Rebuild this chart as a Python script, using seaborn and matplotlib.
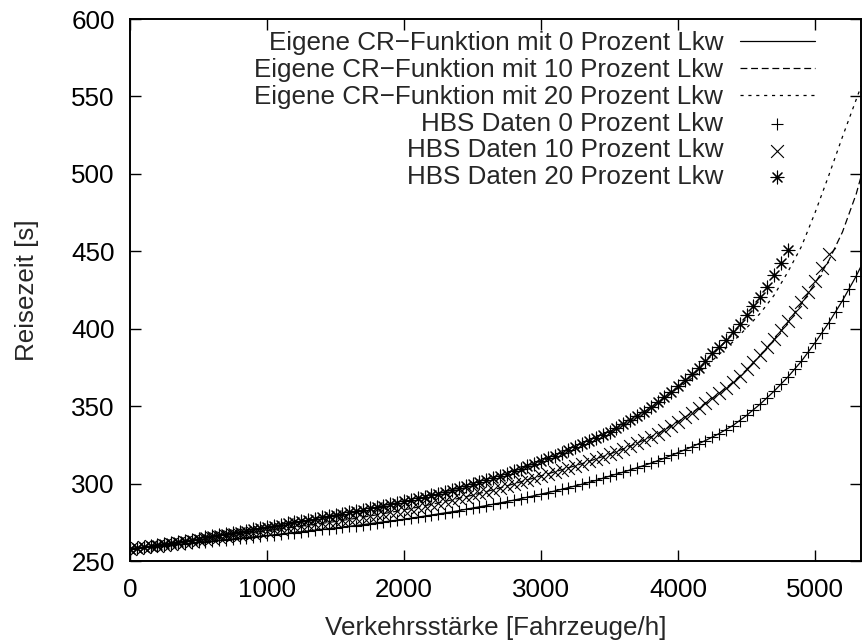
import numpy as np
import pandas as pd
import matplotlib
matplotlib.use("Agg")
import matplotlib.pyplot as plt
import seaborn as sns

# ---------------- data ----------------
step = 50
# HBS data, 0 % Lkw (x = 0 .. 5300 step 50)
hbs0_y = [258.0, 258.4, 258.8, 259.2, 259.6, 260.0, 260.4, 260.8, 261.2, 261.6, 262.0,
          262.4, 262.9, 263.3, 263.8, 264.2, 264.7, 265.1, 265.6, 266.0, 266.5,
          267.0, 267.4, 267.9, 268.4, 268.9, 269.4, 269.9, 270.4, 270.8, 271.3,
          271.8, 272.4, 272.9, 273.5, 274.1, 274.7, 275.3, 275.8, 276.4, 277.0,
          277.6, 278.3, 279.0, 279.7, 280.4, 281.1, 281.8, 282.5, 283.3, 284.2,
          285.0, 285.8, 286.7, 287.5, 288.4, 289.3, 290.2, 291.2, 292.2, 293.2,
          294.2, 295.2, 296.3, 297.4, 298.5, 299.6, 300.8, 302.0, 303.4, 304.8,
          306.1, 307.4, 308.8, 310.2, 311.6, 313.1, 314.7, 316.4, 318.2, 320.0,
          321.8, 323.7, 325.7, 327.8, 330.0, 332.3, 334.8, 337.5, 340.6, 344.0,
          347.6, 351.4, 355.4, 359.6, 364.0, 368.7, 373.7, 379.0, 384.7, 391.0,
          397.3, 403.9, 410.9, 418.2, 425.9, 434.0]
# HBS data, 10 % Lkw (x = 0 .. 5100 step 50)
hbs10_y = [258.0, 258.5, 259.0, 259.5, 260.0, 260.5,
           261.1, 261.7, 262.3, 262.9, 263.5,
           264.1, 264.7, 265.3, 265.9, 266.5,
           267.1, 267.7, 268.3, 268.9, 269.5,
           270.1, 270.7, 271.3, 271.9, 272.5,
           273.1, 273.7, 274.3, 274.9, 275.5,
           276.2, 276.9, 277.6, 278.3, 279.0,
           279.8, 280.6, 281.4, 282.2, 283.0,
           283.9, 284.8, 285.7, 286.6, 287.5,
           288.5, 289.5, 290.5, 291.5, 292.5,
           293.6, 294.8, 296.0, 297.2, 298.5,
           299.8, 301.1, 302.4, 303.7, 305.0,
           306.3, 307.6, 308.9, 310.2, 311.5,
           312.9, 314.4, 315.9, 317.4, 319.0,
           320.7, 322.4, 324.2, 326.1, 328.0,
           330.1, 332.3, 334.6, 337.2, 340.0,
           342.8, 345.7, 348.7, 351.8, 355.0,
           358.3, 361.8, 365.5, 369.6, 374.0,
           378.5, 383.2, 388.1, 393.4, 399.0,
           404.8, 410.8, 417.1, 423.8, 431.0,
           439.2, 448.0]
# HBS data, 20 % Lkw (x = 0 .. 4800 step 50)
hbs20_y = [258.0, 258.6, 259.2, 259.8, 260.4, 261.0,
           261.7, 262.4, 263.1, 263.8, 264.5,
           265.2, 265.9, 266.6, 267.3, 268.0,
           268.8, 269.6, 270.4, 271.2, 272.0,
           272.8, 273.5, 274.3, 275.0, 275.8,
           276.6, 277.4, 278.2, 279.0, 279.8,
           280.6, 281.4, 282.3, 283.1, 284.0,
           284.9, 285.8, 286.7, 287.6, 288.5,
           289.5, 290.5, 291.5, 292.5, 293.5,
           294.6, 295.8, 297.0, 298.2, 299.5,
           300.8, 302.2, 303.6, 305.0, 306.5,
           308.0, 309.6, 311.2, 312.8, 314.5,
           316.2, 318.0, 319.8, 321.6, 323.5,
           325.5, 327.5, 329.5, 331.5, 333.5,
           335.8, 338.3, 340.9, 343.6, 346.5,
           349.4, 352.5, 355.8, 359.3, 363.0,
           366.6, 370.6, 374.8, 379.2, 384.0,
           388.2, 392.8, 397.8, 403.2, 409.0,
           414.5, 420.5, 427.0, 434.5, 442.5, 451.0]

# own CR functions (sampled every 100 veh/h, plus 5350)
cr_x = [0, 100, 200, 300, 400, 500, 600, 700, 800, 900, 1000, 1100, 1200, 1300, 1400,
        1500, 1600, 1700, 1800, 1900, 2000, 2100, 2200, 2300, 2400, 2500, 2600, 2700,
        2800, 2900, 3000, 3100, 3200, 3300, 3400, 3500, 3600, 3700, 3800, 3900, 4000,
        4100, 4200, 4300, 4400, 4500, 4600, 4700, 4800, 4900, 5000, 5100, 5200, 5300, 5350]
cr0_y = [258.0, 258.8, 259.6, 260.4, 261.2, 262.0, 262.9, 263.8, 264.7, 265.6, 266.5,
         267.4, 268.4, 269.4, 270.4, 271.3, 272.4, 273.5, 274.7, 275.8, 277.0,
         278.3, 279.7, 281.1, 282.5, 284.2, 285.8, 287.5, 289.3, 291.2, 293.2,
         295.2, 297.4, 299.6, 302.0, 304.8, 307.4, 310.2, 313.1, 316.4, 320.0,
         323.7, 327.8, 332.3, 337.5, 344.0, 351.4, 359.6, 368.7, 379.0, 391.0,
         403.9, 418.2, 434.0, 443.0]
cr10_y = [258.0, 259.0, 260.0, 261.1, 262.3, 263.5, 264.7, 265.9, 267.1, 268.3, 269.5,
          270.7, 271.9, 273.1, 274.3, 275.5, 276.9, 278.3, 279.8, 281.4, 283.0,
          284.8, 286.6, 288.5, 290.5, 292.5, 294.8, 297.2, 299.8, 302.4, 305.0,
          307.6, 310.2, 312.9, 315.9, 319.0, 322.4, 326.1, 330.1, 334.6, 340.0,
          345.7, 351.8, 358.3, 365.3, 373.5, 382.8, 392.8, 404.0, 416.0, 429.5,
          444.0, 462.5, 487.0, 503.0]
cr20_y = [258.0, 259.2, 260.4, 261.7, 263.1, 264.5, 265.9, 267.3, 268.8, 270.4, 272.0,
          273.5, 275.0, 276.6, 278.2, 279.8, 281.4, 283.1, 284.9, 286.7, 288.5,
          290.5, 292.5, 294.6, 297.0, 299.5, 302.2, 305.0, 308.0, 311.2, 314.5,
          318.0, 321.6, 325.5, 329.5, 333.5, 338.3, 343.6, 349.0, 355.0, 361.5,
          368.0, 375.5, 383.5, 391.5, 400.5, 410.0, 421.5, 436.5, 453.0, 475.0,
          499.0, 524.0, 548.0, 560.0]

labels = ["Eigene CR\u2212Funktion mit 0 Prozent Lkw",
          "Eigene CR\u2212Funktion mit 10 Prozent Lkw",
          "Eigene CR\u2212Funktion mit 20 Prozent Lkw",
          "HBS Daten 0 Prozent Lkw",
          "HBS Daten 10 Prozent Lkw",
          "HBS Daten 20 Prozent Lkw"]
xticks = [0, 1000, 2000, 3000, 4000, 5000]
yticks = [250, 300, 350, 400, 450, 500, 550, 600]

# ---------------- figure ----------------
sns.set_theme(style="ticks")
plt.rcParams["font.family"] = ["Liberation Sans", "DejaVu Sans"]
FS = 18.7
plt.rcParams["font.size"] = FS

W, H = 863, 642
fig = plt.figure(figsize=(W / 100, H / 100), dpi=100)
L, R, T, B = 130, 861, 19, 561
ax = fig.add_axes([L / W, 1 - B / H, (R - L) / W, (B - T) / H])

def xs(n):
    return [i * step for i in range(n)]

line_kw = dict(color="black", linewidth=0.9, sort=False, estimator=None, legend=False)
sns.lineplot(x=cr_x, y=cr0_y, ax=ax, **line_kw)
l0 = ax.lines[-1]
sns.lineplot(x=cr_x, y=cr10_y, ax=ax, **line_kw)
l1 = ax.lines[-1]
l1.set_dashes([5.5, 3.0])
sns.lineplot(x=cr_x, y=cr20_y, ax=ax, **line_kw)
l2 = ax.lines[-1]
l2.set_dashes([2.5, 3.8])

msz = 85
sc_kw = dict(color="black", linewidth=0.8, s=msz, legend=False)
sns.scatterplot(x=xs(len(hbs0_y)), y=hbs0_y, marker="+", ax=ax, **sc_kw)
s0 = ax.collections[-1]
sns.scatterplot(x=xs(len(hbs10_y)), y=hbs10_y, marker="x", ax=ax, **sc_kw)
s1 = ax.collections[-1]
sns.scatterplot(x=xs(len(hbs20_y)), y=hbs20_y, marker=(8, 2, 0), ax=ax, **sc_kw)
s2 = ax.collections[-1]

ax.set_xlim(0, 5335)
ax.set_ylim(250, 600)
ax.set_xticks(xticks)
ax.set_yticks(yticks)
for sp in ax.spines.values():
    sp.set_visible(True)
    sp.set_linewidth(1.4)
    sp.set_color("black")
ax.tick_params(direction="in", length=8, width=1.0, top=True, right=True,
               labelsize=FS, colors="black")
ax.tick_params(axis="x", pad=12.5)
ax.tick_params(axis="y", pad=11)
ax.set_xlabel("Verkehrsst\u00e4rke [Fahrzeuge/h]", fontsize=FS, labelpad=9.5)
ax.set_ylabel("Reisezeit [s]", fontsize=FS, labelpad=23)

leg = ax.legend([l0, l1, l2, s0, s1, s2], labels, loc="upper right",
                bbox_to_anchor=((815 - L) / (R - L), 1 - (31 - T) / (B - T)),
                frameon=False, markerfirst=False, handlelength=2.9,
                handletextpad=0.64, labelspacing=0.11, borderpad=0,
                borderaxespad=0, scatterpoints=1, fontsize=FS)
for t in leg.get_texts():
    t.set_ha("right")
leg._legend_box.align = "right"

fig.savefig("out.png", dpi=100)
